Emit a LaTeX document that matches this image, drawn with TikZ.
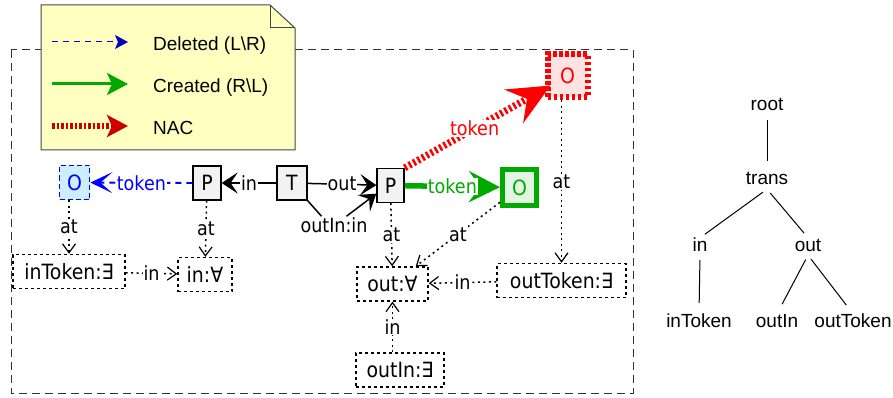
\documentclass[tikz,border=0pt]{standalone}
\usepackage{fontspec}
\setmainfont{Liberation Sans}
\newfontfamily\nodefont[FakeStretch=0.9]{DejaVu Sans}
\usetikzlibrary{arrows.meta,calc}
\definecolor{notefill}{RGB}{255,255,192}
\definecolor{noteline}{RGB}{70,70,70}
\definecolor{cblue}{RGB}{0,0,255}
\definecolor{cdblue}{RGB}{0,0,190}
\definecolor{cgreen}{RGB}{0,170,0}
\definecolor{cred}{RGB}{255,0,0}
\definecolor{cdred}{RGB}{204,0,0}
\definecolor{fblue}{RGB}{204,238,255}
\definecolor{fgreen}{RGB}{226,245,226}
\definecolor{fred}{RGB}{255,226,226}
\definecolor{fgray}{RGB}{242,242,242}
\tikzset{
  nf/.style={font=\nodefont\fontsize{21}{25}\selectfont},
  lf/.style={font=\nodefont\fontsize{19.5}{23}\selectfont},
  obj/.style={draw=black, fill=fgray, line width=1.3pt, minimum width=28pt, minimum height=34pt, inner sep=0pt, nf},
  delobj/.style={obj, draw=cblue, fill=fblue, text=cblue, dash pattern=on 5pt off 3pt, line width=1.8pt},
  newobj/.style={obj, draw=cgreen, fill=fgreen, text=cgreen, line width=5pt},
  nacobj/.style={obj, draw=cred, fill=fred, text=cred, line width=6pt, dash pattern=on 3.5pt off 2.5pt},
  quant/.style={draw=black, line width=1.4pt, dash pattern=on 3pt off 3pt, minimum height=34pt, inner sep=0pt, nf},
  elab/.style={lf, fill=white, inner sep=1pt},
  blk/.style={draw=black, line width=1.5pt, -{Stealth[length=16pt,width=21pt,inset=7pt]}},
  dotE/.style={draw=black, line width=1.5pt, dash pattern=on 2pt off 3.5pt, -{Straight Barb[length=9pt,width=13pt,line width=1.2pt]}},
  deledge/.style={draw=cblue, line width=1.8pt, dash pattern=on 6pt off 5pt, -{Stealth[length=22pt,width=21pt,inset=12pt]}},
  newedge/.style={draw=cgreen, line width=5.5pt, -{Stealth[length=31pt,width=31pt,inset=11pt]}},
  nacedge/.style={draw=cred, line width=7pt, dash pattern=on 2.5pt off 2.5pt, -{Stealth[length=42pt,width=38pt,inset=15pt]}},
  tnode/.style={font=\fontsize{19}{23}\selectfont, inner sep=0pt, text height=13pt, text depth=4pt, anchor=base},
  tedge/.style={draw=black, line width=1pt, shorten <=5pt, shorten >=11pt},
  legtext/.style={font=\fontsize{19}{23}\selectfont, anchor=base west, inner sep=0pt},
}
\begin{document}
\begin{tikzpicture}[x=1pt,y=-1pt]
\useasboundingbox (0,0) rectangle (893,398);
% frame
\draw[draw=black!80, line width=1pt, dash pattern=on 8pt off 5pt] (11,50) rectangle (633,393);
% legend note
\filldraw[fill=notefill, draw=noteline, line width=1pt] (41,5) -- (270,5) -- (295,28) -- (295,150) -- (41,150) -- cycle;
\draw[draw=noteline, line width=1pt] (270,5) -- (270,28) -- (295,28);
\coordinate (la1) at (52,42); \coordinate (lb1) at (128,42);
\coordinate (la2) at (52,84); \coordinate (lb2) at (128,84);
\coordinate (la3) at (52,126); \coordinate (lb3) at (128,126);
\draw[draw=cblue, line width=1pt, dash pattern=on 6pt off 5pt, -{Stealth[length=13pt,width=14pt,inset=3pt,color=cdblue]}] (la1) -- (lb1);
\draw[draw=cgreen, line width=3pt, -{Stealth[length=21pt,width=22pt,inset=5pt]}] (la2) -- (lb2);
\draw[draw=cdred, line width=6pt, dash pattern=on 2.5pt off 2pt, -{Stealth[length=21pt,width=22pt,inset=5pt]}] (la3) -- (lb3);
\node[legtext] (lt1) at (153,51) {Deleted (L\textbackslash R)};
\node[legtext] (lt2) at (153,93) {Created (R\textbackslash L)};
\node[legtext] (lt3) at (153,135) {NAC};
% object nodes
\node[delobj, minimum width=30pt] (Od) at (74.5,182.5) {O};
\node[obj] (P1) at (207,183) {P};
\node[obj, minimum width=30pt] (T) at (292,183) {T};
\node[obj, minimum width=27pt] (P2) at (390.5,185.5) {P};
\node[newobj, minimum width=34pt, minimum height=36pt] (gO) at (519.5,187.5) {O};
\node[nacobj, minimum width=40pt, minimum height=43pt] (rO) at (567.5,76) {O};
% quantifier nodes
\node[quant, minimum width=112pt] (inTok) at (69,271.5) {inToken:∃};
\node[quant, minimum width=54pt] (inA) at (205,274.5) {in:∀};
\node[quant, minimum width=71pt] (outA) at (392.5,284) {out:∀};
\node[quant, minimum width=129pt] (outTok) at (561.5,280.5) {outToken:∃};
\node[quant, minimum width=88pt] (outIn) at (400,370) {outIn:∃};
% edges
\draw[deledge] (P1) -- node[elab, text=cblue]{token} (Od);
\draw[blk] (T) -- node[elab]{in} (P1);
\draw[blk] (T) -- node[elab]{out} (P2);
\node[lf, inner sep=1pt] (oil) at (334,225) {outIn:in};
\draw[draw=black, line width=1.5pt] (T.south east) -- (oil.145);
\draw[blk] (oil.35) -- (P2.210);
\draw[newedge] (P2) -- node[elab, text=cgreen]{token} (gO);
\draw[nacedge, shorten >=-7pt] (P2.north east) -- node[elab, text=cred]{token} (rO);
\draw[dotE] (Od.south -| inTok.north) -- node[elab]{at} (inTok.north);
\draw[dotE] (P1) -- node[elab]{at} (inA);
\draw[dotE] (inTok) -- node[elab]{in} (inA);
\draw[dotE] (P2) -- node[elab]{at} (outA);
\draw[dotE] (gO) -- node[elab]{at} (outA);
\draw[dotE] (outTok) -- node[elab]{in} (outA);
\draw[dotE] (outIn.north -| outA.south) -- node[elab]{in} (outA.south);
\draw[dotE] (rO.south -| outTok.north) -- node[elab]{at} (outTok.north);
% tree
\node[tnode] (root) at (767,111) {root};
\node[tnode] (trans) at (767,185) {trans};
\node[tnode] (tin) at (700,251) {in};
\node[tnode] (tout) at (808,251) {out};
\node[tnode] (tinTok) at (699,327) {inToken};
\node[tnode] (toutIn) at (777,327) {outIn};
\node[tnode] (toutTok) at (853,327) {outToken};
\draw[tedge] (root.south) -- (trans.north);
\draw[tedge, shorten >=6pt] (trans.south) -- (tin.north);
\draw[tedge, shorten >=6pt] (trans.south) -- (tout.north);
\draw[tedge] (tin.south) -- (tinTok.north);
\draw[tedge] (tout.south) -- (toutIn.north);
\draw[tedge] (tout.south) -- (toutTok.north);
\end{tikzpicture}
\end{document}
